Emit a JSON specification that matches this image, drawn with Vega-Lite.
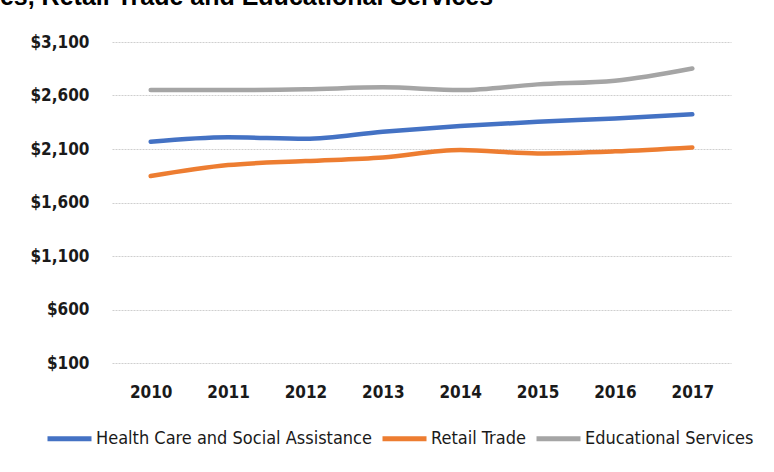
{
  "$schema": "https://vega.github.io/schema/vega-lite/v6.json",
  "autosize": {"type": "none"},
  "width": 619,
  "height": 321,
  "padding": {"top": 42, "left": 112, "right": 43, "bottom": 109},
  "background": "white",
  "title": {
    "text": "ces, Retail Trade and Educational Services",
    "anchor": "start",
    "frame": "group",
    "dx": -126,
    "dy": -3,
    "font": "Liberation Sans",
    "fontSize": 25,
    "fontWeight": "bold",
    "color": "#000000",
    "baseline": "alphabetic",
    "offset": 0
  },
  "data": {
    "values": [
      {"year": "2010", "series": "Health Care and Social Assistance", "value": 2167},
      {"year": "2011", "series": "Health Care and Social Assistance", "value": 2209},
      {"year": "2012", "series": "Health Care and Social Assistance", "value": 2196},
      {"year": "2013", "series": "Health Care and Social Assistance", "value": 2261},
      {"year": "2014", "series": "Health Care and Social Assistance", "value": 2314},
      {"year": "2015", "series": "Health Care and Social Assistance", "value": 2355},
      {"year": "2016", "series": "Health Care and Social Assistance", "value": 2386},
      {"year": "2017", "series": "Health Care and Social Assistance", "value": 2424},
      {"year": "2010", "series": "Retail Trade", "value": 1847},
      {"year": "2011", "series": "Retail Trade", "value": 1950},
      {"year": "2012", "series": "Retail Trade", "value": 1987},
      {"year": "2013", "series": "Retail Trade", "value": 2021},
      {"year": "2014", "series": "Retail Trade", "value": 2090},
      {"year": "2015", "series": "Retail Trade", "value": 2059},
      {"year": "2016", "series": "Retail Trade", "value": 2078},
      {"year": "2017", "series": "Retail Trade", "value": 2115},
      {"year": "2010", "series": "Educational Services", "value": 2651},
      {"year": "2011", "series": "Educational Services", "value": 2651},
      {"year": "2012", "series": "Educational Services", "value": 2658},
      {"year": "2013", "series": "Educational Services", "value": 2676},
      {"year": "2014", "series": "Educational Services", "value": 2651},
      {"year": "2015", "series": "Educational Services", "value": 2704},
      {"year": "2016", "series": "Educational Services", "value": 2738},
      {"year": "2017", "series": "Educational Services", "value": 2852}
    ]
  },
  "mark": {"type": "line", "strokeWidth": 4.5, "interpolate": "monotone", "strokeCap": "round"},
  "encoding": {
    "x": {
      "field": "year",
      "type": "ordinal",
      "scale": {"type": "point", "padding": 0.5},
      "axis": {
        "title": null,
        "labelAngle": 0,
        "ticks": false,
        "domain": false,
        "grid": false,
        "labelPadding": 21,
        "labelFont": "DejaVu Sans Condensed, Liberation Sans, sans-serif",
        "labelFontSize": 17,
        "labelFontWeight": "bold",
        "labelColor": "#1a1a1a"
      }
    },
    "y": {
      "field": "value",
      "type": "quantitative",
      "scale": {"domain": [100, 3100], "nice": false, "zero": false},
      "axis": {
        "title": null,
        "values": [100, 600, 1100, 1600, 2100, 2600, 3100],
        "format": "$,.0f",
        "ticks": false,
        "domain": false,
        "grid": true,
        "gridColor": "#cfcfcf",
        "gridDash": [2, 1],
        "gridWidth": 1,
        "labelPadding": 23,
        "labelFont": "DejaVu Sans Condensed, Liberation Sans, sans-serif",
        "labelFontSize": 17,
        "labelFontWeight": "bold",
        "labelColor": "#1a1a1a"
      }
    },
    "color": {
      "field": "series",
      "type": "nominal",
      "sort": ["Health Care and Social Assistance", "Retail Trade", "Educational Services"],
      "scale": {
        "domain": ["Health Care and Social Assistance", "Retail Trade", "Educational Services"],
        "range": ["#4472C4", "#ED7D31", "#A5A5A5"]
      },
      "legend": {
        "title": null,
        "orient": "none",
        "direction": "horizontal",
        "legendX": -67,
        "legendY": 372,
        "symbolType": "stroke",
        "symbolSize": 1936,
        "symbolStrokeWidth": 5,
        "labelOffset": 2,
        "columnPadding": 0,
        "labelLimit": 0,
        "labelFont": "DejaVu Sans Condensed, Liberation Sans, sans-serif",
        "labelFontSize": 18,
        "labelColor": "#1a1a1a"
      }
    }
  },
  "config": {
    "view": {"stroke": null}
  }
}
